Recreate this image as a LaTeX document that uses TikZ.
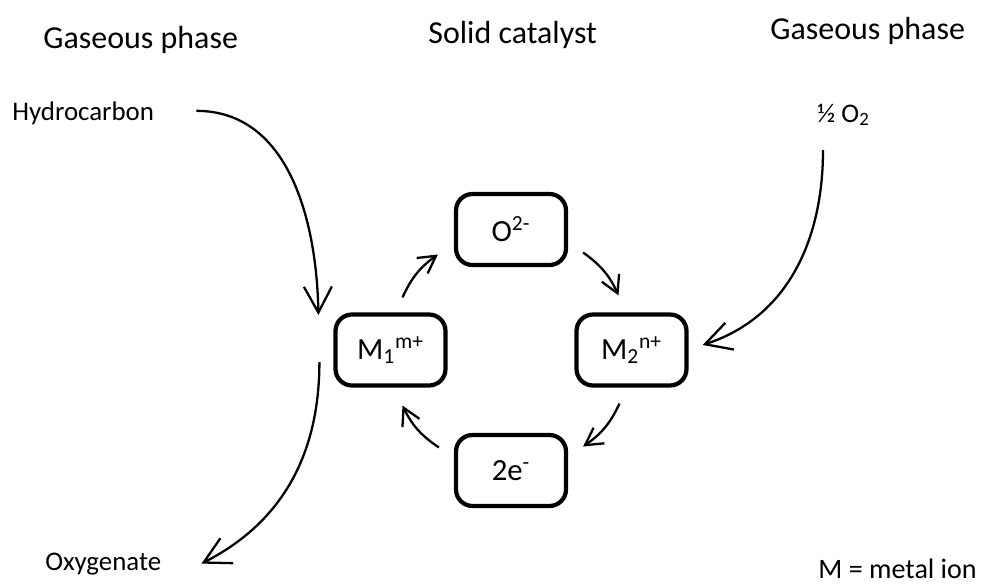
\documentclass[tikz,border=0pt]{standalone}
\usepackage{fontspec}
\setmainfont{Carlito}
\usetikzlibrary{arrows.meta}
\tikzset{
  ion/.style={draw,line width=2.4pt,rounded corners=0.33cm,minimum width=2.2cm,minimum height=1.42cm,font=\fontsize{17.5}{20}\selectfont},
  phase/.style={anchor=base west,inner sep=0,font=\fontsize{18.2}{21}\selectfont},
  species/.style={anchor=base west,inner sep=0,font=\fontsize{15.3}{18}\selectfont},
  feed/.style={line width=1.3pt,-{Straight Barb[length=0.52cm,width=0.56cm,line width=1.3pt]}},
  cyc/.style={line width=1.3pt,-{Straight Barb[length=0.34cm,width=0.38cm,line width=1.3pt]}}
}
\begin{document}
\begin{tikzpicture}[x=0.02cm,y=0.02cm]
  \useasboundingbox (0,0) rectangle (983,583);
  % titles
  \node[phase] (gasl) at (43,535) {Gaseous phase};
  \node[phase] (solid) at (428,540) {Solid catalyst};
  \node[phase] (gasr) at (770,544) {Gaseous phase};
  % reactants and products
  \node[species] (hc) at (12,463) {Hydrocarbon};
  \node[species] (oo) at (817,461) {½ O\textsubscript{2}};
  \node[species] (ox) at (45,13) {Oxygenate};
  \node[phase,font=\fontsize{16}{19}\selectfont] (note) at (818,5) {M = metal ion};
  % redox cycle
  \node[ion] (o) at (511,353.5) {O\textsuperscript{2-}};
  \node[ion] (m1) at (390.5,233) {M\textsubscript{1}\textsuperscript{m+}};
  \node[ion] (m2) at (631.5,233) {M\textsubscript{2}\textsuperscript{n+}};
  \node[ion] (e) at (511,112.5) {2e\textsuperscript{-}};
  \draw[cyc] ([shift={(12,15)}]m1.north) to[bend left=15] ([shift={(-16,-25)}]o.west);
  \draw[cyc] ([shift={(15,-23)}]o.east) to[bend left=15] ([shift={(-13,17)}]m2.north);
  \draw[cyc] ([shift={(-12,-16)}]m2.south) to[bend left=15] ([shift={(15,24)}]e.east);
  \draw[cyc] ([shift={(-15,23)}]e.west) to[bend left=15] ([shift={(12,-18)}]m1.south);
  % gas phase arrows
  \draw[feed] ([shift={(42,2)}]hc.east) to[out=0,in=91] ([shift={(-15,35)}]m1.west);
  \draw[feed] ([shift={(6,-24)}]oo.south west) to[out=-90,in=18] ([shift={(14,5)}]m2.east);
  \draw[feed] ([shift={(-14,-12)}]m1.west) to[out=-90,in=27] ([shift={(40,0)}]ox.east);
\end{tikzpicture}
\end{document}
